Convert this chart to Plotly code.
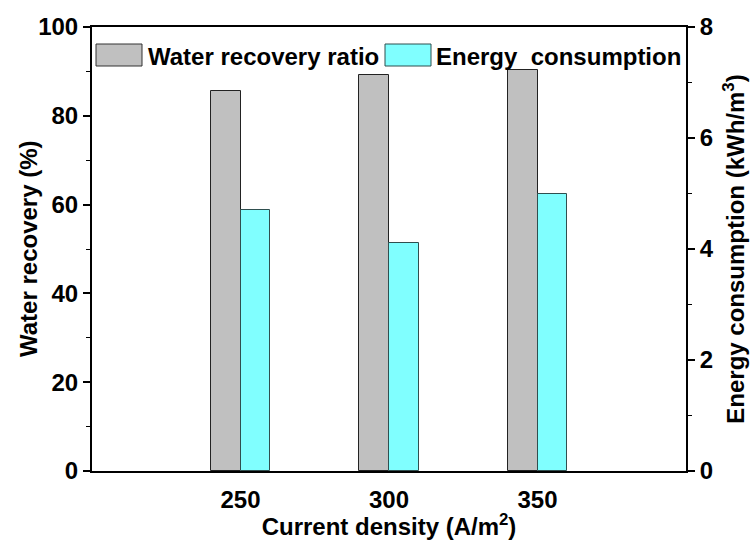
import plotly.graph_objects as go

# Current density (A/m^2)
current_density = [250, 300, 350]
# Water recovery ratio (%)
water_recovery = [85.6, 89.3, 90.3]
# Energy consumption (kWh/m^3)
energy_consumption = [4.7, 4.1, 5.0]

series_names = ["Water recovery ratio", "Energy  consumption"]
x_ticks = [250, 300, 350]

FONT = "Liberation Sans, Arial, sans-serif"
GRAY = "#C0C0C0"
CYAN = "#80FFFF"

# plot frame in pixels
W, H = 755, 540
L, R, T, B = 92, 69, 27, 69
PW, PH = W - L - R, H - T - B


def px(x):
    return (x - L) / PW


def py(y):
    return (H - B - y) / PH


fig = go.Figure()
fig.add_trace(go.Bar(
    x=current_density, y=water_recovery, name=series_names[0],
    width=10, offset=-10, marker=dict(color=GRAY, line=dict(color="#222222", width=1)),
    yaxis="y", showlegend=False,
))
fig.add_trace(go.Bar(
    x=current_density, y=energy_consumption, name=series_names[1],
    width=10, offset=0, marker=dict(color=CYAN, line=dict(color="#2F4F4F", width=1)),
    yaxis="y2", showlegend=False,
))

axis_font = dict(family=FONT, size=24, color="black")
title_font = dict(family=FONT, size=24, color="black")

fig.update_layout(
    width=W, height=H,
    margin=dict(l=L, r=R, t=T, b=B, pad=0, autoexpand=False),
    paper_bgcolor="white", plot_bgcolor="white",
    font=dict(family=FONT, color="black"),
    bargap=0,
    xaxis=dict(
        range=[200, 400], tickvals=x_ticks, ticktext=[f"<b>{v}</b>" for v in x_ticks],
        showgrid=False, zeroline=False, showline=True, linecolor="black", linewidth=2,
        mirror=True, ticks="", tickfont=axis_font, ticklabelstandoff=6, automargin=False,
        title=dict(text="<b>Current density (A/m<sup>2</sup>)</b>", font=title_font, standoff=2),
    ),
    yaxis=dict(
        range=[0, 100], tickvals=[0, 20, 40, 60, 80, 100],
        ticktext=[f"<b>{v}</b>" for v in [0, 20, 40, 60, 80, 100]],
        showgrid=False, zeroline=False, showline=True, linecolor="black", linewidth=2,
        ticks="outside", ticklen=7, tickwidth=1.5, tickcolor="black", automargin=False,
        minor=dict(dtick=10, ticks="outside", ticklen=4, tickwidth=1, tickcolor="black"),
        tickfont=axis_font,
    ),
    yaxis2=dict(
        range=[0, 8], tickvals=[0, 2, 4, 6, 8],
        ticktext=[f"<b>{v}</b>" for v in [0, 2, 4, 6, 8]],
        overlaying="y", side="right", automargin=False,
        showgrid=False, zeroline=False, showline=True, linecolor="black", linewidth=2,
        ticks="outside", ticklen=7, tickwidth=1.5, tickcolor="black",
        minor=dict(dtick=1, ticks="outside", ticklen=4, tickwidth=1, tickcolor="black"),
        tickfont=axis_font,
        title=dict(text="<b>Energy consumption (kWh/m<sup>3</sup>)</b>", font=title_font, standoff=14),
    ),
)

# left axis title, placed just outside the tick labels
fig.add_annotation(
    xref="paper", yref="paper", x=px(28), y=0.5,
    xanchor="center", yanchor="middle", textangle=-90, showarrow=False,
    text="<b>Water recovery (%)</b>", font=title_font,
)

# legend drawn as swatches with labels along the top of the frame
legend_items = [
    (series_names[0], GRAY, "#333333", 96, 142, 146),
    (series_names[1], CYAN, "#2F4F4F", 385, 431, 434),
]
for name, fill, edge, x0, x1, tx in legend_items:
    fig.add_shape(
        type="rect", xref="paper", yref="paper",
        x0=px(x0), x1=px(x1), y0=py(66), y1=py(44),
        fillcolor=fill, line=dict(color=edge, width=1),
    )
    fig.add_annotation(
        xref="paper", yref="paper", x=px(tx), y=py(56),
        xanchor="left", yanchor="middle", showarrow=False,
        text=f"<b>{name.replace('  ', '&nbsp; ')}</b>", font=dict(family=FONT, size=24, color="black"),
    )

fig.write_html("out.html")
